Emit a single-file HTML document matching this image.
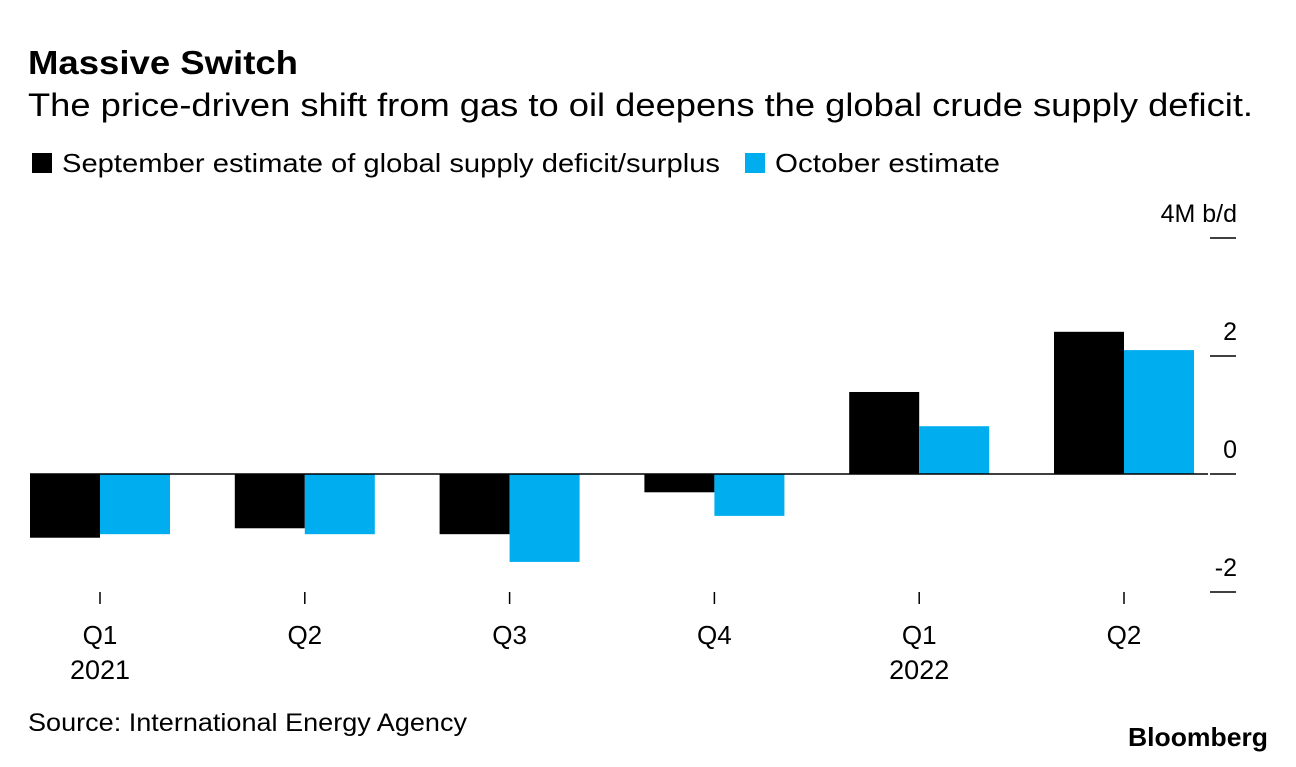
<!DOCTYPE html>
<html><head><meta charset="utf-8"><style>
body{margin:0;background:#fff;font-family:"Liberation Sans",sans-serif;}
svg text{font-family:"Liberation Sans",sans-serif;}
</style></head><body>
<svg width="1296" height="762">
<text x="28" y="74" font-size="33" font-weight="bold" fill="#000" textLength="270" lengthAdjust="spacingAndGlyphs">Massive Switch</text>
<text x="28" y="116" font-size="32" fill="#000" textLength="1225" lengthAdjust="spacingAndGlyphs">The price-driven shift from gas to oil deepens the global crude supply deficit.</text>
<rect x="32" y="153" width="20" height="20" fill="#000"/>
<text x="62" y="172" font-size="26" textLength="658" lengthAdjust="spacingAndGlyphs">September estimate of global supply deficit/surplus</text>
<rect x="745" y="153" width="20" height="20" fill="#00adef"/>
<text x="775" y="172" font-size="26" textLength="225" lengthAdjust="spacingAndGlyphs">October estimate</text>
<g id="plot"></g>
<text x="28" y="731" font-size="25" textLength="439" lengthAdjust="spacingAndGlyphs">Source: International Energy Agency</text>
<text x="1128" y="746" font-size="26" font-weight="bold" textLength="140" lengthAdjust="spacingAndGlyphs">Bloomberg</text>
</svg>
<script>
const quarters=["Q1","Q2","Q3","Q4","Q1","Q2"];
const years=["2021","","","","2022",""];
const september=[-1.08,-0.92,-1.02,-0.31,1.39,2.41];
const october=[-1.02,-1.02,-1.49,-0.71,0.81,2.10];
const yTicks=[4,2,0,-2];
const yTickLabels=["4M b/d","2","0","-2"];
const NS="http://www.w3.org/2000/svg";
const g=document.getElementById('plot');
const y=v=>474-v*59;
const cx=i=>100+i*204.8;
function mk(t,a){const e=document.createElementNS(NS,t);for(const k in a)e.setAttribute(k,a[k]);g.appendChild(e);return e;}
yTicks.forEach((v,i)=>{
 const l=mk('line',{x1:1210,x2:1236,y1:y(v),y2:y(v),stroke:'#000','stroke-width':1.5});
 
 
 const t=mk('text',{x:1237,y:y(v)-16,'font-size':25,'text-anchor':'end'});
 t.textContent=yTickLabels[i];
 
 
});
quarters.forEach((q,i)=>{
 const c=cx(i);
 [[september[i],c-70,'#000','bar-september'],[october[i],c,'#00adef','bar-october']].forEach(([v,x,col,n])=>{
  const r=mk('rect',{x:x,y:Math.min(y(v),y(0)),width:70,height:Math.abs(y(v)-y(0)),fill:col});
  
  
 });
 const tk=mk('line',{x1:c,x2:c,y1:592,y2:604,stroke:'#000','stroke-width':1.5});
 
 
 const t=mk('text',{x:c,y:644,'font-size':26,'text-anchor':'middle'});t.textContent=q;
 
 
 if(years[i]){const t2=mk('text',{x:c,y:679,'font-size':27,'text-anchor':'middle'});t2.textContent=years[i];
 
 }
});
const z=mk('line',{x1:30,x2:1208,y1:y(0),y2:y(0),stroke:'#000','stroke-width':1.5});


</script>
</body></html>
